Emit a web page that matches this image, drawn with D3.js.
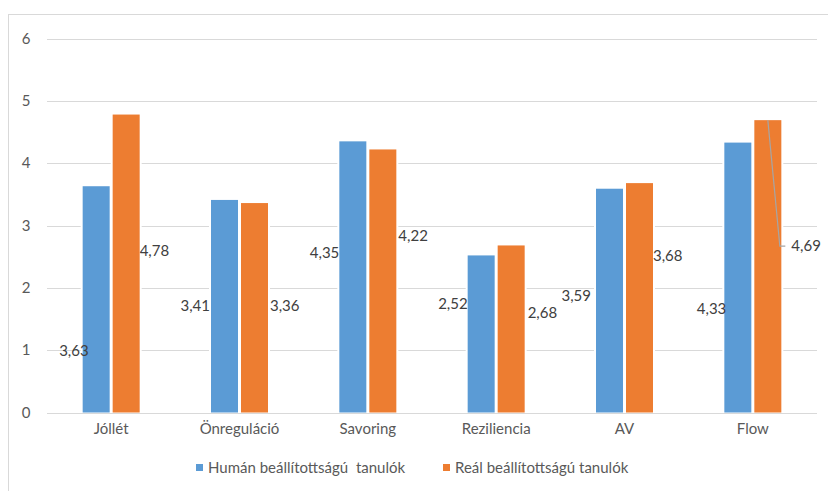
<!DOCTYPE html>
<html>
<head>
<meta charset="utf-8">
<script src="https://cdn.jsdelivr.net/npm/d3@7"></script>
<style>
  html, body { margin: 0; padding: 0; background: #fff; }
  svg { display: block; font-family: "Lato", "Open Sans", sans-serif; }
</style>
</head>
<body>
<svg id="chart" width="828" height="491"></svg>
<script>
// Category names and the two series (means per scale)
const categories = ["Jóllét", "Önreguláció", "Savoring", "Reziliencia", "AV", "Flow"];
const seriesNames = ["Humán beállítottságú  tanulók", "Reál beállítottságú tanulók"];
const humanValues = [3.63, 3.41, 4.35, 2.52, 3.59, 4.33];
const realValues = [4.78, 3.36, 4.22, 2.68, 3.68, 4.69];
const yTicks = [0, 1, 2, 3, 4, 5, 6];

// Where each data label sits (height in axis units, sideways nudge in px)
const humanLabelAt = [0.99, 1.72, 2.56, 1.74, 1.87, 1.66];
const humanLabelNudge = [6, -1, 0, 0, -5, 2];
const realLabelAt = [2.59, 1.72, 2.83, 1.60, 2.51, 2.67];
const realLabelNudge = [0, 2, 2, 3, 0, 10];
const leaderIndex = 5; // Flow label is pulled away with a leader line

const colors = ["#5B9BD5", "#ED7D31"];
const fmt = v => v.toFixed(2).replace(".", ",");

const svg = d3.select("#chart");
const plot = { left: 47, right: 817, top: 38.5, bottom: 412.5 };

// Outer chart border
svg.append("rect")
  .attr("x", 8.5).attr("y", 14.5)
  .attr("width", 900).attr("height", 600)
  .attr("fill", "none").attr("stroke", "#D9D9D9").attr("stroke-width", 1);

const x = d3.scaleBand().domain(categories).range([plot.left, plot.right]);
const y = d3.scaleLinear().domain([0, 6]).range([plot.bottom, plot.top]);
const barW = 27, gap = 3;
const xs = d3.scaleOrdinal().domain([0, 1]).range([-(barW + gap / 2), gap / 2]);

// Gridlines
svg.append("g").selectAll("line").data(yTicks).join("line")
  .attr("x1", plot.left).attr("x2", plot.right)
  .attr("y1", d => Math.round(y(d)) + 0.5).attr("y2", d => Math.round(y(d)) + 0.5)
  .attr("stroke", "#D9D9D9").attr("stroke-width", 1);

// Y axis labels
const yAxis = d3.axisLeft(y).tickValues(yTicks).tickSize(0).tickPadding(0).tickFormat(d3.format("d"));
svg.append("g").attr("transform", "translate(30,0)").call(yAxis)
  .call(g => g.select(".domain").remove())
  .call(g => g.selectAll("text").attr("fill", "#595959").attr("font-size", 15)
    .attr("font-family", "Lato, 'Open Sans', sans-serif").attr("text-anchor", "middle").attr("dx", -4));

// Bars: white halo underneath, then the coloured bar
const series = [humanValues, realValues];
series.forEach((vals, s) => {
  const g = svg.append("g");
  const bx = (d, i) => x(categories[i]) + x.bandwidth() / 2 + xs(s);
  g.selectAll("rect.halo").data(vals).join("rect").attr("class", "halo")
    .attr("x", (d, i) => bx(d, i) - 2).attr("y", d => y(d) - 1)
    .attr("width", barW + 4).attr("height", d => y(0) - y(d) + 1)
    .attr("fill", "#fff");
  g.selectAll("rect.bar").data(vals).join("rect").attr("class", "bar")
    .attr("x", (d, i) => bx(d, i)).attr("y", d => y(d))
    .attr("width", barW).attr("height", d => y(0) - y(d))
    .attr("fill", colors[s]);
});

// Category labels
const xAxis = d3.axisBottom(x).tickSize(0).tickPadding(0);
svg.append("g").attr("transform", `translate(0,${plot.bottom + 11})`).call(xAxis)
  .call(g => g.select(".domain").remove())
  .call(g => g.selectAll("text").attr("fill", "#595959").attr("font-size", 15)
    .attr("font-family", "Lato, 'Open Sans', sans-serif"));

// Data labels
const labelG = svg.append("g").attr("font-size", 15).attr("fill", "#404040");
humanValues.forEach((v, i) => {
  const left = x(categories[i]) + x.bandwidth() / 2 + xs(0);
  labelG.append("text")
    .attr("x", left + humanLabelNudge[i]).attr("y", y(humanLabelAt[i]))
    .attr("dy", "0.35em").attr("text-anchor", "end").text(fmt(v));
});
realValues.forEach((v, i) => {
  const right = x(categories[i]) + x.bandwidth() / 2 + xs(1) + barW;
  const lx = right + realLabelNudge[i];
  const ly = y(realLabelAt[i]);
  if (i === leaderIndex) {
    const cx = x(categories[i]) + x.bandwidth() / 2 + xs(1) + barW / 2;
    svg.append("polyline")
      .attr("points", [[cx, y(v)], [cx + 12, ly], [lx - 6, ly]].map(p => p.join(",")).join(" "))
      .attr("fill", "none").attr("stroke", "#A5A5A5").attr("stroke-width", 1.2);
  }
  labelG.append("text")
    .attr("x", lx).attr("y", ly)
    .attr("dy", "0.35em").attr("text-anchor", "start").text(fmt(v));
});

// Legend
const legend = svg.append("g").attr("font-size", 15).attr("fill", "#595959");
const legendX = [196, 443];
seriesNames.forEach((name, s) => {
  legend.append("rect").attr("x", legendX[s]).attr("y", 464)
    .attr("width", 7).attr("height", 7).attr("fill", colors[s]);
  legend.append("text").attr("x", legendX[s] + 12).attr("y", 468)
    .attr("dy", "0.35em").attr("xml:space", "preserve").style("white-space", "pre").text(name);
});
</script>
</body>
</html>
